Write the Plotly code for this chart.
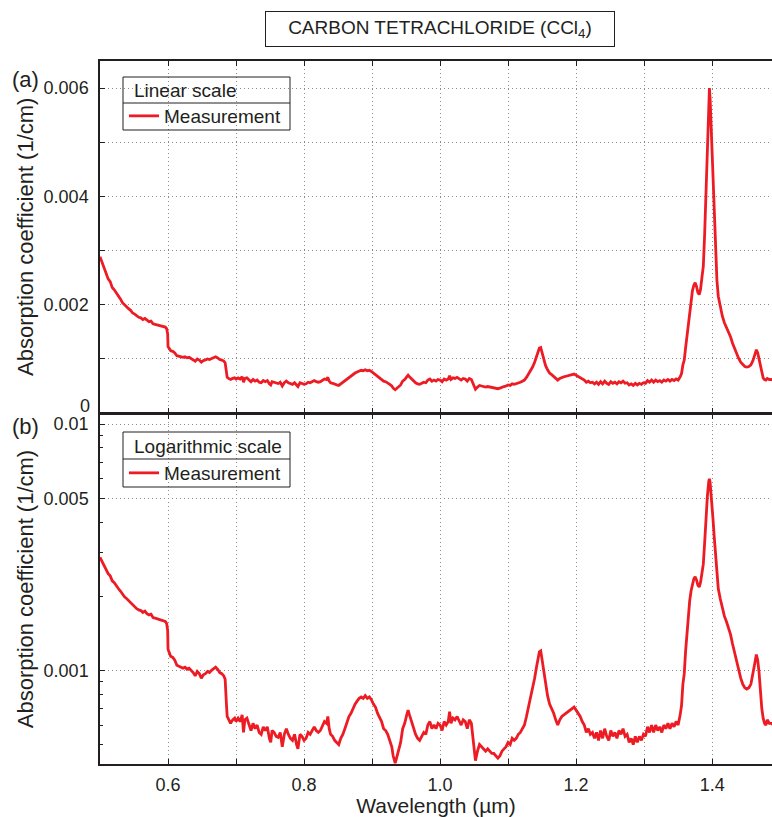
import plotly.graph_objects as go

# ---- data ----
wavelength_um = [
    0.500, 0.503, 0.506, 0.509, 0.512, 0.515, 0.518, 0.521, 0.524, 0.527,
    0.530, 0.533, 0.536, 0.539, 0.542, 0.545, 0.548, 0.551, 0.554, 0.557,
    0.560, 0.563, 0.566, 0.569, 0.572, 0.575, 0.578, 0.581, 0.584, 0.587,
    0.590, 0.593, 0.596, 0.598, 0.5995, 0.600, 0.602, 0.604, 0.607, 0.610,
    0.613, 0.616, 0.619, 0.622, 0.625, 0.628, 0.631, 0.634, 0.637, 0.640,
    0.643, 0.646, 0.649, 0.652, 0.655, 0.658, 0.661, 0.664, 0.667, 0.670,
    0.673, 0.676, 0.679, 0.682, 0.684, 0.685, 0.686, 0.687, 0.689, 0.692,
    0.695, 0.698, 0.700, 0.703, 0.706, 0.709, 0.711, 0.713, 0.716, 0.719,
    0.722, 0.725, 0.728, 0.731, 0.734, 0.737, 0.740, 0.743, 0.746, 0.749,
    0.751, 0.753, 0.756, 0.759, 0.762, 0.765, 0.768, 0.771, 0.774, 0.777,
    0.780, 0.783, 0.786, 0.789, 0.791, 0.794, 0.797, 0.800, 0.803, 0.806,
    0.809, 0.812, 0.815, 0.818, 0.821, 0.824, 0.827, 0.830, 0.833, 0.835,
    0.837, 0.839, 0.842, 0.845, 0.848, 0.851, 0.854, 0.857, 0.860, 0.863,
    0.866, 0.869, 0.872, 0.875, 0.878, 0.881, 0.884, 0.887, 0.890, 0.893,
    0.896, 0.899, 0.902, 0.905, 0.908, 0.911, 0.914, 0.917, 0.920, 0.923,
    0.926, 0.929, 0.931, 0.934, 0.936, 0.939, 0.942, 0.945, 0.948, 0.951,
    0.953, 0.955, 0.958, 0.961, 0.964, 0.967, 0.970, 0.973, 0.976, 0.979,
    0.982, 0.985, 0.988, 0.991, 0.994, 0.997, 1.000, 1.003, 1.006, 1.009,
    1.012, 1.014, 1.016, 1.019, 1.022, 1.025, 1.028, 1.031, 1.034, 1.037,
    1.040, 1.043, 1.046, 1.048, 1.050, 1.052, 1.055, 1.058, 1.061, 1.064,
    1.067, 1.070, 1.073, 1.076, 1.079, 1.082, 1.085, 1.088, 1.091, 1.094,
    1.097, 1.100, 1.103, 1.106, 1.109, 1.112, 1.115, 1.118, 1.121, 1.124,
    1.127, 1.130, 1.133, 1.136, 1.139, 1.142, 1.144, 1.146, 1.148, 1.150,
    1.152, 1.155, 1.158, 1.161, 1.164, 1.167, 1.170, 1.173, 1.176, 1.179,
    1.182, 1.185, 1.188, 1.191, 1.194, 1.197, 1.200, 1.203, 1.206, 1.209,
    1.212, 1.215, 1.218, 1.221, 1.224, 1.227, 1.230, 1.233, 1.236, 1.239,
    1.242, 1.245, 1.248, 1.251, 1.254, 1.257, 1.260, 1.263, 1.266, 1.269,
    1.272, 1.275, 1.278, 1.281, 1.284, 1.287, 1.290, 1.293, 1.296, 1.299,
    1.302, 1.305, 1.308, 1.311, 1.314, 1.317, 1.320, 1.323, 1.326, 1.329,
    1.332, 1.335, 1.338, 1.341, 1.344, 1.347, 1.350, 1.353, 1.355, 1.357,
    1.359, 1.361, 1.363, 1.365, 1.367, 1.369, 1.371, 1.373, 1.375, 1.377,
    1.379, 1.381, 1.383, 1.385, 1.387, 1.389, 1.391, 1.393, 1.395, 1.396,
    1.397, 1.399, 1.401, 1.403, 1.405, 1.407, 1.409, 1.412, 1.415, 1.418,
    1.421, 1.424, 1.427, 1.430, 1.433, 1.436, 1.439, 1.442, 1.445, 1.448,
    1.451, 1.454, 1.457, 1.460, 1.463, 1.465, 1.467, 1.469, 1.471, 1.473,
    1.475, 1.477, 1.479, 1.481, 1.484, 1.487, 1.490,
]

# absorption coefficient in units of 1e-3 1/cm
absorption_milli = [
    2.88, 2.78, 2.66, 2.58, 2.47, 2.42, 2.31, 2.27, 2.22, 2.15,
    2.10, 2.03, 1.99, 1.96, 1.92, 1.89, 1.84, 1.82, 1.78, 1.76,
    1.75, 1.72, 1.74, 1.70, 1.68, 1.69, 1.64, 1.63, 1.62, 1.61,
    1.60, 1.59, 1.58, 1.55, 1.45, 1.22, 1.18, 1.14, 1.13, 1.10,
    1.05, 1.04, 1.03, 1.02, 1.03, 1.01, 1.02, 1.00, 0.98, 0.95,
    0.99, 0.97, 0.93, 0.96, 0.97, 0.99, 0.98, 1.00, 1.02, 1.03,
    1.01, 0.98, 0.97, 0.95, 0.92, 0.85, 0.72, 0.65, 0.63, 0.61,
    0.63, 0.64, 0.62, 0.64, 0.62, 0.66, 0.56, 0.63, 0.64, 0.60,
    0.57, 0.61, 0.58, 0.60, 0.56, 0.55, 0.59, 0.57, 0.59, 0.53,
    0.51, 0.57, 0.56, 0.54, 0.535, 0.56, 0.49, 0.55, 0.58, 0.55,
    0.53, 0.52, 0.55, 0.50, 0.48, 0.55, 0.54, 0.52, 0.53, 0.56,
    0.55, 0.57, 0.59, 0.57, 0.56, 0.57, 0.60, 0.62, 0.61, 0.65,
    0.58, 0.55, 0.54, 0.52, 0.51, 0.50, 0.53, 0.55, 0.58, 0.62,
    0.65, 0.67, 0.70, 0.73, 0.75, 0.77, 0.78, 0.77, 0.79, 0.77,
    0.78, 0.76, 0.73, 0.71, 0.67, 0.64, 0.62, 0.58, 0.57, 0.55,
    0.52, 0.49, 0.45, 0.42, 0.44, 0.48, 0.51, 0.58, 0.61, 0.66,
    0.69, 0.66, 0.62, 0.59, 0.55, 0.53, 0.52, 0.54, 0.56, 0.55,
    0.60, 0.62, 0.58, 0.60, 0.58, 0.61, 0.60, 0.57, 0.62, 0.60,
    0.62, 0.68, 0.61, 0.64, 0.63, 0.65, 0.62, 0.60, 0.63, 0.62,
    0.58, 0.63, 0.61, 0.55, 0.48, 0.43, 0.47, 0.50, 0.49, 0.48,
    0.47, 0.48, 0.47, 0.46, 0.46, 0.45, 0.44, 0.45, 0.47, 0.48,
    0.49, 0.51, 0.50, 0.53, 0.52, 0.53, 0.55, 0.56, 0.58, 0.60,
    0.65, 0.71, 0.77, 0.84, 0.93, 1.04, 1.13, 1.19, 1.20, 1.10,
    0.99, 0.87, 0.79, 0.73, 0.70, 0.67, 0.63, 0.60, 0.63, 0.65,
    0.66, 0.67, 0.68, 0.69, 0.70, 0.71, 0.69, 0.67, 0.65, 0.62,
    0.60, 0.56, 0.58, 0.55, 0.56, 0.53, 0.56, 0.52, 0.57, 0.53,
    0.58, 0.54, 0.52, 0.57, 0.54, 0.56, 0.53, 0.57, 0.55, 0.58,
    0.54, 0.55, 0.51, 0.53, 0.50, 0.54, 0.51, 0.54, 0.52, 0.55,
    0.54, 0.59, 0.56, 0.60, 0.56, 0.60, 0.57, 0.59, 0.56, 0.60,
    0.58, 0.61, 0.58, 0.61, 0.59, 0.62, 0.60, 0.66, 0.72, 0.88,
    0.97, 1.20, 1.42, 1.65, 1.92, 2.10, 2.25, 2.35, 2.40, 2.33,
    2.22, 2.18, 2.28, 2.50, 2.70, 3.30, 4.20, 5.10, 5.85, 6.00,
    5.80, 5.10, 4.20, 3.50, 2.90, 2.45, 2.15, 1.95, 1.78, 1.66,
    1.58, 1.50, 1.40, 1.28, 1.18, 1.08, 1.00, 0.93, 0.88, 0.85,
    0.84, 0.85, 0.88, 0.96, 1.08, 1.16, 1.10, 0.98, 0.82, 0.70,
    0.64, 0.61, 0.60, 0.63, 0.61, 0.61, 0.60,
]

absorption_per_cm = [v * 1e-3 for v in absorption_milli]

x_tick_vals = [0.6, 0.7, 0.8, 0.9, 1.0, 1.1, 1.2, 1.3, 1.4]
x_tick_text = ["0.6", "", "0.8", "", "1.0", "", "1.2", "", "1.4"]
lin_tick_vals = [0, 0.001, 0.002, 0.003, 0.004, 0.005, 0.006]
lin_tick_text = ["", "", "0.002", "", "0.004", "", "0.006"]
lin_zero_label = "0"
log_tick_vals = [0.001, 0.005, 0.01]
log_tick_text = ["0.001", "0.005", "0.01"]
log_minor_vals = [0.0005, 0.0006, 0.0007, 0.0008, 0.0009, 0.002, 0.003,
                  0.004, 0.006, 0.007, 0.008, 0.009]

title_text = "CARBON TETRACHLORIDE (CCl<sub>4</sub>)"
y_title = "Absorption coefficient (1/cm)"
x_title = "Wavelength (µm)"
series_name = "Measurement"
header_a = "Linear scale"
header_b = "Logarithmic scale"

# ---- styling ----
RED = "#ED1C24"
FONT = "Liberation Sans, Arial, sans-serif"
TXT = "#231F20"
GRID = "#8C8C8C"
GRID_DASH = "1px,3px"

W, H = 772, 817
ML, MR, MT, MB = 100, 0, 61, 53
PW, PH = W - ML - MR, H - MT - MB
LW = 1.5
B_TOP = 0.5 - LW / PH  # lets the two boundary lines coincide


def px(xp):
    return (xp - ML) / PW


def py(yp):
    return (H - MB - yp) / PH


fig = go.Figure()
fig.add_trace(go.Scatter(
    x=wavelength_um, y=absorption_per_cm, mode="lines", name=series_name,
    line=dict(color=RED, width=2.8), xaxis="x2", yaxis="y2", legend="legend2",
))
fig.add_trace(go.Scatter(
    x=wavelength_um, y=absorption_per_cm, mode="lines", name=series_name,
    line=dict(color=RED, width=2.8), xaxis="x", yaxis="y", legend="legend",
))

common_x = dict(
    range=[0.5, 1.488], tickmode="array", tickvals=x_tick_vals,
    showline=True, linecolor=TXT, linewidth=LW, mirror="ticks",
    ticks="inside", ticklen=5, tickcolor=TXT, tickwidth=1,
    showgrid=True, gridcolor=GRID, griddash=GRID_DASH, gridwidth=1,
    zeroline=False, automargin=False,
    tickfont=dict(family=FONT, size=18, color=TXT),
)

fig.update_layout(
    width=W, height=H,
    margin=dict(l=ML, r=MR, t=MT, b=MB),
    paper_bgcolor="white", plot_bgcolor="white",
    font=dict(family=FONT, color=TXT),
    xaxis=dict(common_x, anchor="y", domain=[0, 1], ticktext=x_tick_text,
               ticklabelstandoff=4,
               title=dict(text=x_title, font=dict(family=FONT, size=21, color=TXT),
                          standoff=9)),
    xaxis2=dict(common_x, anchor="y2", domain=[0, 1], matches="x",
                showticklabels=False),
    yaxis=dict(
        domain=[0, B_TOP], type="log", range=[-3.38, -1.959],
        tickmode="array", tickvals=log_tick_vals, ticktext=log_tick_text,
        showline=True, linecolor=TXT, linewidth=LW, mirror=False,
        ticks="inside", ticklen=5, tickcolor=TXT,
        showgrid=True, gridcolor=GRID, griddash=GRID_DASH, gridwidth=1,
        minor=dict(tickmode="array", tickvals=log_minor_vals, ticks="inside",
                   ticklen=3, tickcolor=TXT, showgrid=False),
        zeroline=False, automargin=False, ticklabelstandoff=6,
        tickfont=dict(family=FONT, size=18, color=TXT),
        title=dict(text=y_title, font=dict(family=FONT, size=22, color=TXT),
                   standoff=4),
    ),
    yaxis2=dict(
        domain=[0.5, 1], range=[0, 0.0065],
        tickmode="array", tickvals=lin_tick_vals, ticktext=lin_tick_text,
        showline=True, linecolor=TXT, linewidth=LW, mirror=False,
        ticks="inside", ticklen=5, tickcolor=TXT,
        showgrid=True, gridcolor=GRID, griddash=GRID_DASH, gridwidth=1,
        zeroline=False, automargin=False, ticklabelstandoff=6,
        tickfont=dict(family=FONT, size=18, color=TXT),
        title=dict(text=y_title, font=dict(family=FONT, size=22, color=TXT),
                   standoff=4),
    ),
    legend=dict(x=px(124), y=py(473), xanchor="left", yanchor="middle",
                bgcolor="rgba(0,0,0,0)", borderwidth=0,
                font=dict(family=FONT, size=19, color=TXT)),
    legend2=dict(x=px(124), y=py(116), xanchor="left", yanchor="middle",
                 bgcolor="rgba(0,0,0,0)", borderwidth=0,
                 font=dict(family=FONT, size=19, color=TXT)),
    showlegend=True,
)

shapes = []
for top, sep, bot in [(77, 103, 130), (432, 459, 487)]:
    shapes.append(dict(type="rect", xref="paper", yref="paper",
                       x0=px(123), x1=px(290), y0=py(bot), y1=py(top),
                       line=dict(color=TXT, width=1), fillcolor="rgba(0,0,0,0)",
                       layer="above"))
    shapes.append(dict(type="line", xref="paper", yref="paper",
                       x0=px(123), x1=px(290), y0=py(sep), y1=py(sep),
                       line=dict(color=TXT, width=1), layer="above"))
fig.update_layout(shapes=shapes)

annotations = [
    dict(text=title_text, xref="paper", yref="paper", x=px(440), y=py(29),
         xanchor="center", yanchor="middle", showarrow=False,
         font=dict(family=FONT, size=19, color=TXT),
         bordercolor=TXT, borderwidth=1, borderpad=2, width=344, height=30),
    dict(text="(a)", xref="paper", yref="paper", x=px(25), y=py(79),
         xanchor="center", yanchor="middle", showarrow=False,
         font=dict(family=FONT, size=22, color=TXT)),
    dict(text="(b)", xref="paper", yref="paper", x=px(25), y=py(426),
         xanchor="center", yanchor="middle", showarrow=False,
         font=dict(family=FONT, size=22, color=TXT)),
    dict(text=lin_zero_label, xref="paper", yref="paper", x=px(92), y=py(406),
         xanchor="right", yanchor="middle", showarrow=False,
         font=dict(family=FONT, size=18, color=TXT)),
    dict(text=header_a, xref="paper", yref="paper", x=px(132), y=py(90),
         xanchor="left", yanchor="middle", showarrow=False,
         font=dict(family=FONT, size=19, color=TXT)),
    dict(text=header_b, xref="paper", yref="paper", x=px(132), y=py(446),
         xanchor="left", yanchor="middle", showarrow=False,
         font=dict(family=FONT, size=19, color=TXT)),
]
fig.update_layout(annotations=annotations)

fig.write_html("out.html", config={"displayModeBar": False},
               post_script="document.body.style.margin='0px';")
